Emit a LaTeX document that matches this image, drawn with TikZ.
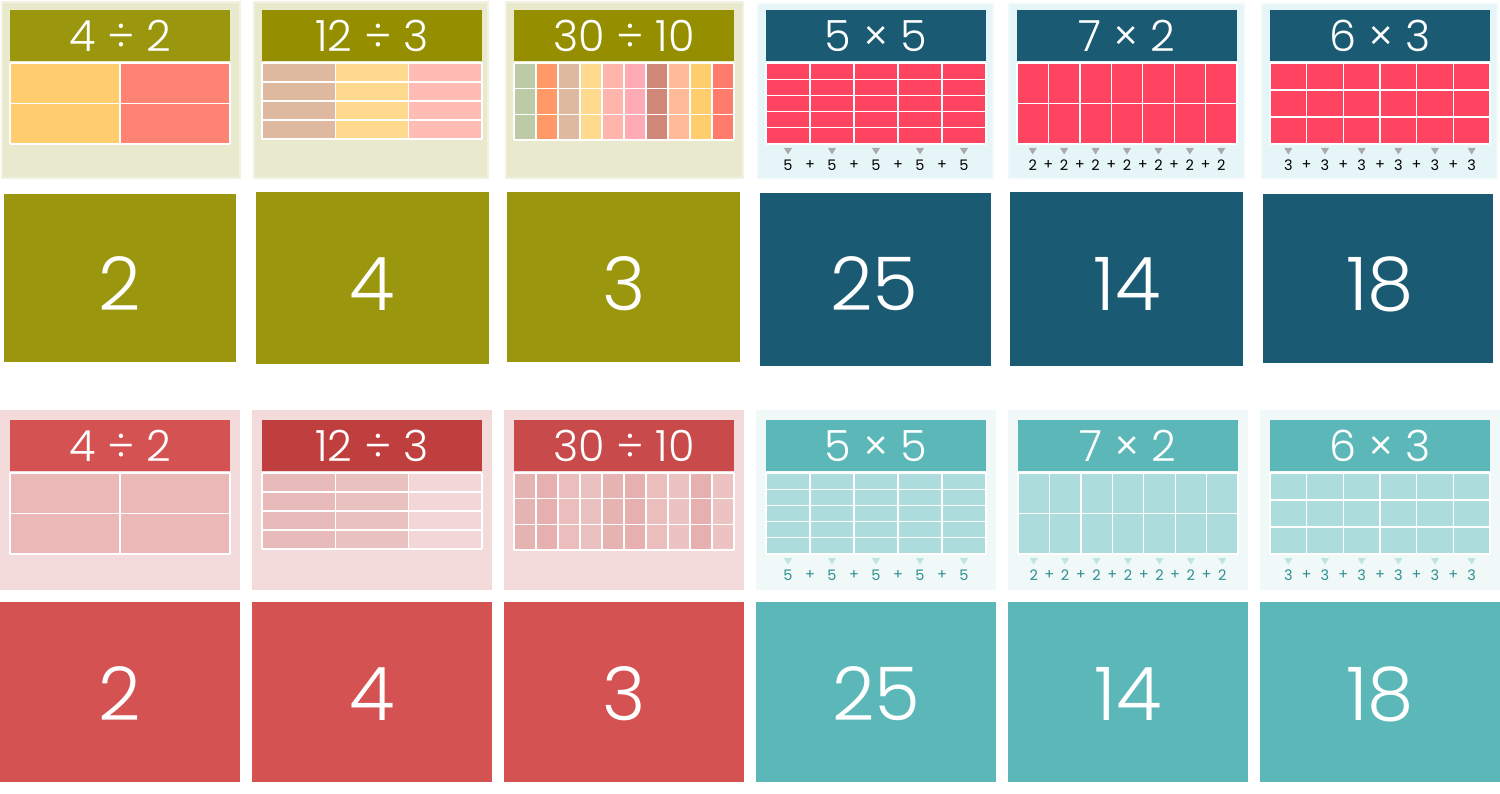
\documentclass[tikz,border=0pt]{standalone}
\usepackage{fontspec}
\IfFontExistsTF{Poppins Light}{\setmainfont{Poppins Light}}{\setmainfont{Poppins}}
\newfontfamily\numfont{Poppins}
\definecolor{olhead}{HTML}{9A970F}
\definecolor{olhead2}{HTML}{958F00}
\definecolor{olcard}{HTML}{9A970E}
\definecolor{olframe}{HTML}{E9E9CE}
\definecolor{bluhead}{HTML}{1A5A73}
\definecolor{bluframe}{HTML}{E6F5F7}
\definecolor{redgrid}{HTML}{FF4461}
\definecolor{rdhead}{HTML}{D45252}
\definecolor{rdhead2}{HTML}{BF3F3F}
\definecolor{rdhead3}{HTML}{C94A4A}
\definecolor{rdframe}{HTML}{F3DADB}
\definecolor{teal1}{HTML}{5CB8B8}
\definecolor{tlframe}{HTML}{F0F8F8}
\definecolor{tlgrid}{HTML}{ADDCDC}
\definecolor{tltext}{HTML}{2E8F8F}
\definecolor{tltri}{HTML}{BDE3E3}
\definecolor{gtri}{HTML}{AAAAAA}
% division palettes
\definecolor{cA}{HTML}{FFCC6E}
\definecolor{cB}{HTML}{FF8273}
\definecolor{cC}{HTML}{DEB9A0}
\definecolor{cD}{HTML}{FFD98E}
\definecolor{cE}{HTML}{FFBBB4}
\definecolor{cF}{HTML}{BCCBA6}
\definecolor{cG}{HTML}{FF9A68}
\definecolor{cH}{HTML}{FFB4AC}
\definecolor{cI}{HTML}{FFABB6}
\definecolor{cJ}{HTML}{D08878}
\definecolor{cK}{HTML}{FFBB98}
\definecolor{cL}{HTML}{FF7C6C}
\definecolor{pA}{HTML}{EBB8B8}
\definecolor{pB}{HTML}{E9BABA}
\definecolor{pC}{HTML}{EAC1C1}
\definecolor{pD}{HTML}{F3D7D8}
\definecolor{pE}{HTML}{E6B3B3}
\definecolor{pF}{HTML}{E6B0B0}
\definecolor{pG}{HTML}{EBBDBD}
\definecolor{pH}{HTML}{EBC0C0}
\definecolor{pI}{HTML}{EDC2C2}
\tikzset{
  hdr/.style={font=\fontsize{43}{43}\selectfont, text=white, inner sep=0pt},
  bignum/.style={font=\fontsize{74}{74}\selectfont, text=white, inner sep=0pt},
  sm/.style={font=\numfont\fontsize{14.5}{14.5}\selectfont, inner sep=0pt},
  gl/.style={white, line width=1.3pt},
}
\newcommand\gridlines[6]{%
  \pgfmathsetmacro\gcw{(#3-#1)/#5}%
  \pgfmathsetmacro\grh{(#4-#2)/#6}%
  \foreach \k in {0,...,#5}{\draw[gl] ({#1+\k*\gcw},#2) -- ({#1+\k*\gcw},#4);}%
  \foreach \k in {0,...,#6}{\draw[gl] (#1,{#2+\k*\grh}) -- (#3,{#2+\k*\grh});}%
}
\newcommand\colfill[6]{%
  \pgfmathsetmacro\gcw{(#3-#1)/#5}%
  \foreach \c [count=\i from 0] in {#6}{\fill[\c] ({#1+\i*\gcw},#2) rectangle ({#1+(\i+1)*\gcw},#4);}%
}
\newcommand\sumrow[9]{%
  \pgfmathsetmacro\scw{(#3-#2)/#4}%
  \foreach \k in {1,...,#4}{%
    \pgfmathsetmacro\xc{#2+(\k-0.5)*\scw}%
    \fill[#8] ({\xc-4},#6) -- ({\xc+4},#6) -- (\xc,{#6+6.5}) -- cycle;
    \node[sm,text=#9] (#1n\k) at (\xc,#7) {#5};
  }%
  \pgfmathtruncatemacro\nm{#4-1}%
  \foreach \k in {1,...,\nm}{%
    \pgfmathsetmacro\xp{#2+\k*\scw}%
    \node[sm,text=#9] (#1p\k) at (\xp,#7) {+};
  }%
}
\begin{document}
\begin{tikzpicture}[x=1pt,y=-1pt]
\useasboundingbox (0,0) rectangle (1500,794);
\fill[white] (0,0) rectangle (1500,794);
% ---------- TOP ROW: question cards ----------
\foreach \a/\b in {3/239,255/487,507/742}{
  \fill[olframe!60] (\a-2,1) rectangle (\b+2,179);
  \fill[olframe] (\a,3) rectangle (\b,177);
}
\foreach \a/\b in {759/992,1010/1243,1263/1496}{
  \fill[bluframe!60] (\a-2,3) rectangle (\b+2,179);
  \fill[bluframe] (\a,5) rectangle (\b,177);
}
% headers
\fill[olhead] (10,10) rectangle (230,61);
\fill[olhead2] (262,10) rectangle (482,61);
\fill[olhead2] (514,10) rectangle (734,61);
\fill[bluhead] (766,10) rectangle (986,61);
\fill[bluhead] (1017,10) rectangle (1237,61);
\fill[bluhead] (1270,10) rectangle (1490,61);
\node[hdr] (t1) at (120,36) {4 ÷ 2};
\node[hdr] (t2) at (372,36) {12 ÷ 3};
\node[hdr] (t3) at (624,36) {30 ÷ 10};
\node[hdr] (t4) at (876,36) {5 × 5};
\node[hdr] (t5) at (1127,36) {7 × 2};
\node[hdr] (t6) at (1380,36) {6 × 3};
% grids
\colfill{10}{63}{230}{144}{2}{cA,cB}
\gridlines{10}{63}{230}{144}{2}{2}
\colfill{262}{63}{482}{139}{3}{cC,cD,cE}
\gridlines{262}{63}{482}{139}{3}{4}
\colfill{514}{63}{734}{140}{10}{cF,cG,cC,cD,cH,cI,cJ,cK,cA,cL}
\gridlines{514}{63}{734}{140}{10}{3}
\fill[redgrid] (766,63) rectangle (986,144);
\gridlines{766}{63}{986}{144}{5}{5}
\fill[redgrid] (1017,63) rectangle (1237,144);
\gridlines{1017}{63}{1237}{144}{7}{2}
\fill[redgrid] (1270,63) rectangle (1490,144);
\gridlines{1270}{63}{1490}{144}{6}{3}
\sumrow{sa}{766}{986}{5}{5}{148}{165}{gtri}{black}
\sumrow{sb}{1017}{1237}{7}{2}{148}{165}{gtri}{black}
\sumrow{sc}{1270}{1490}{6}{3}{148}{165}{gtri}{black}
% ---------- TOP ROW: answer cards ----------
\fill[olcard] (4,194) rectangle (236,362);
\fill[olcard] (256,192) rectangle (489,364);
\fill[olcard] (507,192) rectangle (740,362);
\fill[bluhead] (760,193) rectangle (991,366);
\fill[bluhead] (1010,192) rectangle (1243,366);
\fill[bluhead] (1263,194) rectangle (1493,363);
\node[bignum] (a1) at (120,284) {2};
\node[bignum] (a2) at (372,284) {4};
\node[bignum] (a3) at (624,284) {3};
\node[bignum] (a4) at (874,284) {25};
\node[bignum] (a5) at (1127,284) {14};
\node[bignum] (a6) at (1380,284) {18};
% ---------- BOTTOM ROW: question cards ----------
\foreach \a/\b in {0/240,252/492,504/744}{\fill[rdframe] (\a,410) rectangle (\b,590);}
\foreach \a/\b in {756/996,1008/1248,1260/1500}{\fill[tlframe] (\a,410) rectangle (\b,590);}
\fill[rdhead] (10,420) rectangle (230,471);
\fill[rdhead2] (262,420) rectangle (482,471);
\fill[rdhead3] (514,420) rectangle (734,471);
\fill[teal1] (766,420) rectangle (986,471);
\fill[teal1] (1018,420) rectangle (1238,471);
\fill[teal1] (1270,420) rectangle (1490,471);
\node[hdr] (b1) at (120,446) {4 ÷ 2};
\node[hdr] (b2) at (372,446) {12 ÷ 3};
\node[hdr] (b3) at (624,446) {30 ÷ 10};
\node[hdr] (b4) at (876,446) {5 × 5};
\node[hdr] (b5) at (1128,446) {7 × 2};
\node[hdr] (b6) at (1380,446) {6 × 3};
\colfill{10}{473}{230}{554}{2}{pA,pA}
\gridlines{10}{473}{230}{554}{2}{2}
\colfill{262}{473}{482}{549}{3}{pB,pC,pD}
\gridlines{262}{473}{482}{549}{3}{4}
\colfill{514}{473}{734}{550}{10}{pE,pF,pG,pH,pE,pF,pG,pI,pF,pI}
\gridlines{514}{473}{734}{550}{10}{3}
\fill[tlgrid] (766,473) rectangle (986,554);
\gridlines{766}{473}{986}{554}{5}{5}
\fill[tlgrid] (1018,473) rectangle (1238,554);
\gridlines{1018}{473}{1238}{554}{7}{2}
\fill[tlgrid] (1270,473) rectangle (1490,554);
\gridlines{1270}{473}{1490}{554}{6}{3}
\sumrow{ta}{766}{986}{5}{5}{558}{575}{tltri}{tltext}
\sumrow{tb}{1018}{1238}{7}{2}{558}{575}{tltri}{tltext}
\sumrow{tc}{1270}{1490}{6}{3}{558}{575}{tltri}{tltext}
% ---------- BOTTOM ROW: answer cards ----------
\fill[rdhead] (0,602) rectangle (240,782);
\fill[rdhead] (252,602) rectangle (492,782);
\fill[rdhead] (504,602) rectangle (744,782);
\fill[teal1] (756,602) rectangle (996,782);
\fill[teal1] (1008,602) rectangle (1248,782);
\fill[teal1] (1260,602) rectangle (1500,782);
\node[bignum] (c1) at (120,694) {2};
\node[bignum] (c2) at (372,694) {4};
\node[bignum] (c3) at (624,694) {3};
\node[bignum] (c4) at (876,694) {25};
\node[bignum] (c5) at (1128,694) {14};
\node[bignum] (c6) at (1380,694) {18};
\end{tikzpicture}
\end{document}
